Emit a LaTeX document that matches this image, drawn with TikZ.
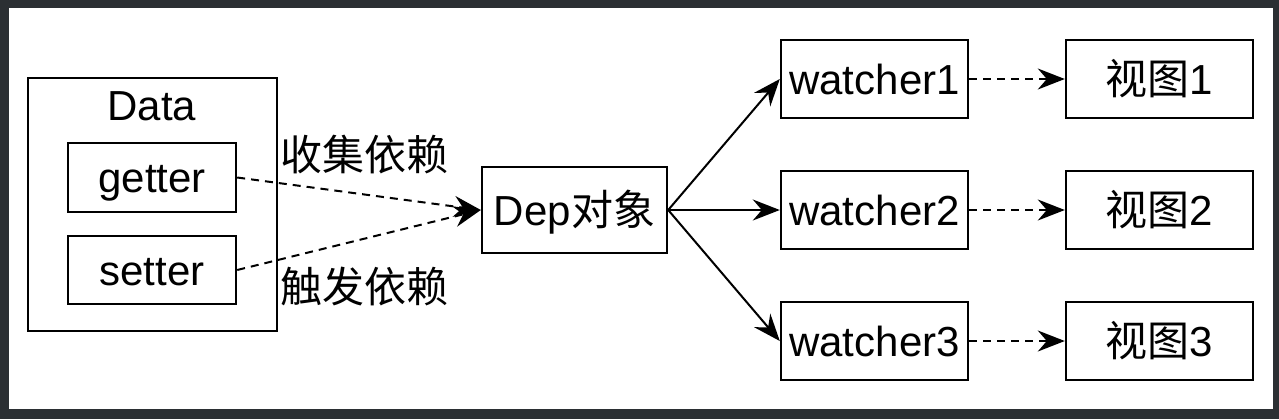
\documentclass[tikz,border=0pt]{standalone}
\usepackage{fontspec}
\setmainfont{Liberation Sans}
\newfontfamily\cjk{Noto Sans CJK SC}
\usetikzlibrary{arrows.meta}
\tikzset{box style dp/.style={draw, line width=1.2pt, minimum width=93.5pt, minimum height=39pt, inner sep=0pt, text height=15pt, text depth=0pt, font=\fontsize{21}{25}\selectfont},
         label style dp/.style={inner sep=0pt, text height=15pt, text depth=0pt, font=\fontsize{21}{25}\selectfont},
         arrow style dp/.style={line width=1pt, ->, >={Stealth[length=13.5pt,width=10.5pt,inset=4.5pt]}},
         dash style dp/.style={arrow style dp, dash pattern=on 4pt off 3pt}}

\begin{document}
\begin{tikzpicture}[x=0.5pt,y=-0.5pt]
   % frame round the picture, pixel coordinates of the screenshot
   \fill[fill={rgb,255:red,43;green,47;blue,51}] (0,0) rectangle (1279,419);
   \fill[white] (9,8) rectangle (1273,409);

   % data side
   \node (data) [box style dp, minimum width=124.5pt, minimum height=126.5pt] at (152.5,204.5) {};
   \node (datatext) [label style dp] at (152,105) {Data};
   \node (getter) [box style dp, minimum width=84pt, minimum height=34.5pt] at (152,177.5) {getter};
   \node (setter) [box style dp, minimum width=84pt, minimum height=34pt] at (152,270) {setter};
   \node (collect) [label style dp] at (364,155) {\cjk 收集依赖};
   \node (trigger) [label style dp] at (364,287) {\cjk 触发依赖};

   \node (dep) [box style dp, minimum width=92.5pt, minimum height=43pt] at (574.5,210) {Dep{\cjk 对象}};

   % watchers and views
   \foreach \i/\y in {1/79, 2/210, 3/341}
   {
      \node (watcher\i) [box style dp] at (874.5,\y) {watcher\i};
      \node (view\i) [box style dp] at (1159.5,\y) {{\cjk 视图}\i};
      \draw [arrow style dp] (dep.east) to (watcher\i.west);
      \draw [dash style dp] (watcher\i.east) to (view\i.west);
   }

   \draw [dash style dp] (getter.east) to (dep.west);
   \draw [dash style dp] (setter.east) to (dep.west);
\end{tikzpicture}
\end{document}
